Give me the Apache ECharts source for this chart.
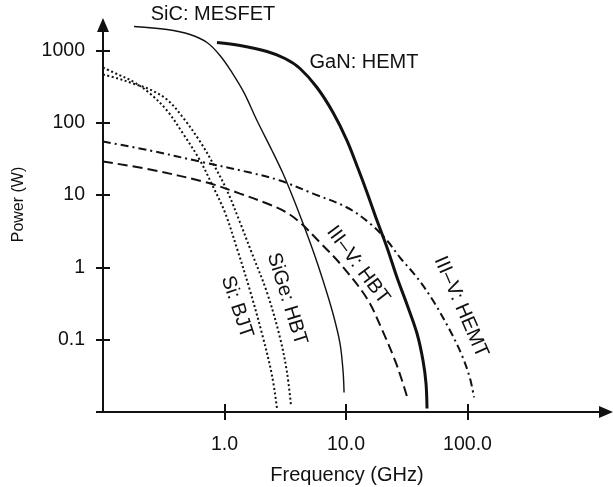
<!DOCTYPE html>
<html>
<head>
<meta charset="utf-8">
<script src="https://cdn.jsdelivr.net/npm/echarts@6/dist/echarts.min.js"></script>
<style>
  html, body { margin: 0; padding: 0; background: #fff; }
  #chart { width: 613px; height: 487px; }
</style>
</head>
<body>
<div id="chart"></div>
<script>
// 频率 (GHz) / 功率 (W) 读图数据
var xTickValues = [1, 10, 100];
var xTickLabels = ['1.0', '10.0', '100.0'];
var yTickValues = [0.01, 0.1, 1, 10, 100, 1000];
var yLabelValues = [0.1, 1, 10, 100, 1000];
var yTickLabels = ['0.1', '1', '10', '100', '1000'];

var sicMesfet = [[0.18, 2148], [0.336, 1952], [0.52, 1665], [0.718, 1290], [0.918, 853], [1.153, 496], [1.447, 262], [1.851, 107.6], [2.46, 41.4], [3.03, 19.9], [3.66, 9.27], [4.43, 4.05], [5.35, 1.71], [6.47, 0.659], [7.81, 0.23], [8.93, 0.0885], [9.45, 0.0375], [9.64, 0.0186]];
var ganHemt = [[0.867, 1290], [1.342, 1173], [2.238, 969], [3.147, 775], [4.182, 564], [5.77, 307.8], [7.82, 138.8], [10.19, 56.9], [12.56, 23.3], [14.89, 10.9], [17.99, 4.45], [21.75, 1.885], [26.29, 0.725], [31.77, 0.307], [38.41, 0.1219], [43.03, 0.0516], [45.54, 0.0248], [46.42, 0.01118]];
var iiivHemt = [[0.1, 55.1], [0.2436, 41.4], [0.629, 29.1], [1.621, 20.5], [2.862, 15.9], [5.35, 10.5], [10.19, 6.74], [15.76, 4.05], [21.75, 2.36], [27.82, 1.37], [38.41, 0.725], [52.0, 0.348], [71.8, 0.134], [90.1, 0.0605], [104.9, 0.0291], [113.1, 0.0159]];
var iiivHbt = [[0.1, 29.1], [0.2436, 22.6], [0.718, 14.9], [1.342, 10.5], [2.238, 7.65], [3.147, 5.93], [4.182, 4.18], [6.11, 2.21], [8.93, 1.13], [14.89, 0.371], [19.78, 0.138], [25.31, 0.0516], [28.91, 0.0273], [31.77, 0.0164]];
var siBjt = [[0.1, 582], [0.1329, 466], [0.1766, 372.6], [0.2436, 254.2], [0.336, 148], [0.4553, 71.1], [0.629, 30.1], [0.804, 13.15], [1.0095, 5.74], [1.267, 1.826], [1.621, 0.479], [2.075, 0.1072], [2.46, 0.032], [2.705, 0.01118]];
var siGeHbt = [[0.1, 466], [0.1329, 410], [0.1766, 349.6], [0.2436, 288.8], [0.336, 210.1], [0.4553, 118.4], [0.629, 55.1], [0.804, 27.4], [1.0486, 11.58], [1.342, 4.18], [1.684, 1.557], [2.238, 0.4495], [2.862, 0.1072], [3.269, 0.0352], [3.526, 0.0123]];

var FONT = '"Liberation Sans", Arial, Helvetica, sans-serif';
var INK = '#111';

function pickLabel(values, labels) {
    return function (v) {
        for (var i = 0; i < values.length; i++) {
            if (Math.abs(Math.log10(v) - Math.log10(values[i])) < 1e-6) return labels[i];
        }
        return '';
    };
}

function curve(name, data, width, dash) {
    return {
        name: name,
        type: 'line',
        data: data,
        symbol: 'none',
        smooth: 0.35,
        clip: false,
        lineStyle: { color: INK, width: width, type: dash, cap: 'butt' }
    };
}

function note(text, x, y, rot) {
    return {
        type: 'text', x: x, y: y, rotation: rot || 0,
        style: { text: text, font: '20px ' + FONT, fill: INK, align: 'center', verticalAlign: 'middle' }
    };
}

var myChart = echarts.init(document.getElementById('chart'));
var option = {
    animation: false,
    backgroundColor: '#fff',
    grid: { left: 103, right: 7, top: 25, bottom: 75, containLabel: false, outerBoundsMode: 'none' },
    xAxis: [
        {
            type: 'log',
            logBase: 10,
            min: 0.1,
            max: 1380,
            name: 'Frequency (GHz)',
            nameLocation: 'middle',
            nameGap: 53,
            nameTextStyle: { color: INK, fontSize: 20, fontFamily: FONT, padding: [0, 15, 0, 0] },
            axisLine: {
                onZero: false,
                symbol: ['none', 'triangle'],
                symbolSize: [12, 14],
                lineStyle: { color: INK, width: 2 }
            },
            axisTick: { customValues: xTickValues, length: 8, lineStyle: { color: INK, width: 2 } },
            axisLabel: {
                customValues: xTickValues,
                margin: 23,
                color: INK,
                fontSize: 19.5,
                fontFamily: FONT,
                formatter: pickLabel(xTickValues, xTickLabels)
            },
            splitLine: { show: false }
        },
        {
            // 内侧刻度
            type: 'log',
            logBase: 10,
            min: 0.1,
            max: 1380,
            position: 'bottom',
            axisLine: { show: false },
            axisTick: { customValues: xTickValues, inside: true, length: 8, lineStyle: { color: INK, width: 2 } },
            axisLabel: { show: false },
            splitLine: { show: false }
        }
    ],
    yAxis: [
        {
            type: 'log',
            logBase: 10,
            min: 0.01,
            max: 2254,
            name: 'Power (W)',
            nameLocation: 'middle',
            nameGap: 76,
            nameTextStyle: { color: INK, fontSize: 16, fontFamily: FONT, padding: [0, 0, 0, 28] },
            axisLine: {
                onZero: false,
                symbol: ['none', 'triangle'],
                symbolSize: [12, 14],
                lineStyle: { color: INK, width: 2 }
            },
            axisTick: { customValues: yTickValues, length: 7, lineStyle: { color: INK, width: 2 } },
            axisLabel: {
                customValues: yLabelValues,
                margin: 18,
                color: INK,
                fontSize: 19.5,
                fontFamily: FONT,
                formatter: pickLabel(yLabelValues, yTickLabels)
            },
            splitLine: { show: false }
        },
        {
            type: 'log',
            logBase: 10,
            min: 0.01,
            max: 2254,
            position: 'left',
            axisLine: { show: false },
            axisTick: { customValues: yTickValues, inside: true, length: 7, lineStyle: { color: INK, width: 2 } },
            axisLabel: { show: false },
            splitLine: { show: false }
        }
    ],
    series: [
        curve('SiC: MESFET', sicMesfet, 1.4, 'solid'),
        curve('GaN: HEMT', ganHemt, 3, 'solid'),
        curve('III–V: HEMT', iiivHemt, 2, [8, 4, 2, 4]),
        curve('III–V: HBT', iiivHbt, 2, [10, 5]),
        curve('Si: BJT', siBjt, 2, [2, 2.5]),
        curve('SiGe: HBT', siGeHbt, 2, [2, 2.5])
    ],
    graphic: [
        note('SiC: MESFET', 213, 14),
        note('GaN: HEMT', 364, 62),
        note('Si: BJT', 237, 307, -1.25),
        note('SiGe: HBT', 287, 299, -1.27),
        note('III–V: HBT', 358, 265, -0.93),
        note('III–V: HEMT', 461, 307, -1.16)
    ]
};
myChart.setOption(option);
</script>
</body>
</html>
